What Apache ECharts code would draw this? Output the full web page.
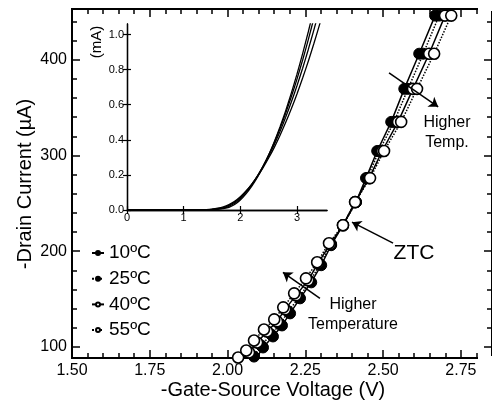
<!DOCTYPE html>
<html><head><meta charset="utf-8">
<script src="https://cdn.jsdelivr.net/npm/echarts@6/dist/echarts.min.js"></script>
<style>html,body{margin:0;padding:0;background:#fff}#c{width:492px;height:402px}</style>
</head><body><div id="c"></div>
<script>
const FONT = '"Liberation Sans", Arial, Helvetica, sans-serif';

// ---- main plot data (Vgs in V, Id in uA) ----
const seriesNames = ['10ºC', '25ºC', '40ºC', '55ºC'];
const v10 = [2.066, 2.092, 2.114, 2.146, 2.175, 2.201, 2.233, 2.269, 2.301, 2.333, 2.371, 2.413, 2.445, 2.481, 2.526, 2.568, 2.616, 2.667];
const i10 = [80.6, 87.9, 99.5, 111.0, 122.5, 135.1, 150.8, 167.5, 185.4, 206.3, 227.2, 251.3, 276.4, 304.7, 335.1, 369.6, 406.3, 446.1];
const v25 = [2.060, 2.085, 2.108, 2.140, 2.169, 2.195, 2.230, 2.265, 2.297, 2.333, 2.371, 2.413, 2.449, 2.487, 2.535, 2.580, 2.629, 2.680];
const i25 = [82.7, 90.0, 101.6, 113.1, 123.6, 137.2, 151.8, 168.6, 186.4, 207.4, 227.2, 251.3, 276.4, 304.7, 335.1, 369.6, 406.3, 446.1];
const v40 = [2.043, 2.069, 2.095, 2.127, 2.159, 2.185, 2.220, 2.259, 2.291, 2.330, 2.371, 2.410, 2.455, 2.497, 2.548, 2.596, 2.648, 2.699];
const i40 = [86.9, 94.2, 104.7, 116.2, 126.7, 139.3, 153.9, 169.6, 187.5, 207.4, 227.2, 251.3, 276.4, 304.7, 335.1, 369.6, 406.3, 446.1];
const v55 = [2.034, 2.060, 2.085, 2.117, 2.150, 2.179, 2.214, 2.252, 2.288, 2.326, 2.371, 2.410, 2.458, 2.503, 2.558, 2.609, 2.664, 2.719];
const i55 = [89.0, 96.3, 106.8, 118.3, 128.8, 141.4, 156.0, 171.7, 188.5, 208.4, 227.2, 251.3, 276.4, 304.7, 335.1, 369.6, 406.3, 446.1];

// ---- inset data (Vgs in V, Id in mA) ----
const insetV  = [0, 1.3, 1.4, 1.5, 1.6, 1.7, 1.8, 1.9, 2.0, 2.1, 2.2, 2.3, 2.4, 2.5, 2.6, 2.7, 2.8, 2.9, 3.0, 3.1, 3.2, 3.3, 3.4, 3.5];
const inset10 = [0, 0, 0.0005, 0.0015, 0.004, 0.008, 0.015, 0.031, 0.057, 0.092, 0.135, 0.186, 0.246, 0.313, 0.389, 0.473, 0.565, 0.666, 0.774, 0.891, 1.016, 1.149, 1.290, 1.44];
const inset25 = [0, 0, 0.001, 0.003, 0.006, 0.011, 0.021, 0.038, 0.065, 0.100, 0.142, 0.192, 0.249, 0.313, 0.385, 0.464, 0.551, 0.645, 0.746, 0.855, 0.971, 1.095, 1.226, 1.36];
const inset40 = [0, 0.0003, 0.0015, 0.004, 0.008, 0.014, 0.026, 0.044, 0.071, 0.105, 0.146, 0.193, 0.247, 0.307, 0.374, 0.448, 0.528, 0.615, 0.708, 0.808, 0.915, 1.028, 1.148, 1.27];
const inset55 = [0, 0.0005, 0.002, 0.005, 0.010, 0.018, 0.031, 0.049, 0.075, 0.108, 0.146, 0.190, 0.240, 0.296, 0.357, 0.425, 0.498, 0.577, 0.661, 0.752, 0.848, 0.950, 1.058, 1.172];

// ---- ticks ----
const xMajor = [1.5, 1.75, 2.0, 2.25, 2.5, 2.75];
const xMinor = [1.55, 1.6, 1.65, 1.7, 1.8, 1.85, 1.9, 1.95, 2.05, 2.1, 2.15, 2.2, 2.3, 2.35, 2.4, 2.45, 2.55, 2.6, 2.65, 2.7, 2.8];
const yMajor = [100, 200, 300, 400];
const yMinor = [120, 140, 160, 180, 220, 240, 260, 280, 320, 340, 360, 380, 420, 440];
const insetXTicks = [0, 1, 2, 3];
const insetYTicks = [0, 0.2, 0.4, 0.6, 0.8, 1.0];

const zip = (a, b) => a.map((v, k) => [v, b[k]]);

const black = '#000';
function axisBase(extra) {
  return Object.assign({
    type: 'value', splitLine: { show: false },
    axisLine: { show: true, lineStyle: { color: black, width: 2 } },
    axisLabel: { show: false }
  }, extra);
}

const xAxes = [
  axisBase({ gridIndex: 0, position: 'bottom', min: 1.5, max: 2.85,
    axisTick: { show: true, inside: true, length: 8, customValues: xMajor, lineStyle: { color: black, width: 1.5 } },
    axisLabel: { show: true, customValues: xMajor, formatter: v => v.toFixed(2), fontSize: 16, color: black, fontFamily: FONT, margin: 5 } }),
  axisBase({ gridIndex: 0, position: 'bottom', min: 1.5, max: 2.85,
    axisTick: { show: true, inside: true, length: 5, customValues: xMinor, lineStyle: { color: black, width: 1.5 } } }),
  axisBase({ gridIndex: 0, position: 'top', min: 1.5, max: 2.85,
    axisTick: { show: true, inside: true, length: 8, customValues: xMajor, lineStyle: { color: black, width: 1.5 } } }),
  axisBase({ gridIndex: 0, position: 'top', min: 1.5, max: 2.85,
    axisTick: { show: true, inside: true, length: 5, customValues: xMinor, lineStyle: { color: black, width: 1.5 } } }),
  // inset
  axisBase({ gridIndex: 1, position: 'bottom', min: 0, max: 3.53,
    axisLine: { show: true, lineStyle: { color: black, width: 1.3 } },
    axisTick: { show: true, inside: true, length: 4, customValues: insetXTicks, lineStyle: { color: black, width: 1.2 } },
    axisLabel: { show: true, customValues: insetXTicks, fontSize: 11, color: black, fontFamily: FONT, margin: 2 } }),
  axisBase({ gridIndex: 1, position: 'top', min: 0, max: 3.53,
    axisLine: { show: true, lineStyle: { color: black, width: 1.3 } },
    axisTick: { show: true, inside: true, length: 4, customValues: insetXTicks, lineStyle: { color: black, width: 1.2 } } })
];

const yAxes = [
  axisBase({ gridIndex: 0, position: 'left', min: 88.5, max: 453,
    axisTick: { show: true, inside: true, length: 8, customValues: yMajor, lineStyle: { color: black, width: 1.5 } },
    axisLabel: { show: true, customValues: yMajor, fontSize: 16, color: black, fontFamily: FONT, margin: 5 } }),
  axisBase({ gridIndex: 0, position: 'left', min: 88.5, max: 453,
    axisTick: { show: true, inside: true, length: 5, customValues: yMinor, lineStyle: { color: black, width: 1.5 } } }),
  axisBase({ gridIndex: 0, position: 'right', min: 88.5, max: 453,
    axisTick: { show: true, inside: true, length: 8, customValues: yMajor, lineStyle: { color: black, width: 1.5 } } }),
  axisBase({ gridIndex: 0, position: 'right', min: 88.5, max: 453,
    axisTick: { show: true, inside: true, length: 5, customValues: yMinor, lineStyle: { color: black, width: 1.5 } } }),
  // inset
  axisBase({ gridIndex: 1, position: 'left', min: 0, max: 1.06,
    axisLine: { show: true, lineStyle: { color: black, width: 1.3 } },
    axisTick: { show: true, inside: true, length: 4, customValues: insetYTicks, lineStyle: { color: black, width: 1.2 } },
    axisLabel: { show: true, customValues: insetYTicks, formatter: v => v.toFixed(1), fontSize: 11, color: black, fontFamily: FONT, margin: 3 } }),
  axisBase({ gridIndex: 1, position: 'right', min: 0, max: 1.06,
    axisLine: { show: true, lineStyle: { color: black, width: 1.3 } },
    axisTick: { show: true, inside: true, length: 4, customValues: insetYTicks, lineStyle: { color: black, width: 1.2 } } })
];

function mainSeries(name, v, i, filled, dotted, extra) {
  return Object.assign({
    name, type: 'line', xAxisIndex: 0, yAxisIndex: 0, data: zip(v, i),
    symbol: 'circle', symbolSize: 11, clip: true,
    lineStyle: { color: black, width: 1.5, type: dotted ? 'dotted' : 'solid' },
    itemStyle: filled ? { color: black, borderColor: black, borderWidth: 1 } : { color: '#fff', borderColor: black, borderWidth: 1.6 },
    emphasis: { disabled: true }, z: 3
  }, extra || {});
}
function insetSeries(data) {
  return { type: 'line', xAxisIndex: 4, yAxisIndex: 4, data: zip(insetV, data), showSymbol: false, symbol: 'none',
    smooth: 0.2, clip: true, lineStyle: { color: black, width: 1.3 }, emphasis: { disabled: true }, silent: true };
}

const arrows = {
  silent: true, symbol: ['none', 'arrow'], symbolSize: 9,
  lineStyle: { color: black, width: 1.5, type: 'solid' }, label: { show: false },
  emphasis: { disabled: true },
  data: [
    [{ coord: [2.519, 386.4] }, { coord: [2.677, 350.8] }],
    [{ coord: [2.532, 208.4] }, { coord: [2.400, 230.4] }],
    [{ coord: [2.297, 150.8] }, { coord: [2.178, 178.0] }]
  ]
};

const option = {
  animation: false,
  backgroundColor: '#fff',
  grid: [
    { left: 72, top: 9, width: 420, height: 349 },
    { left: 127, top: 24, width: 200, height: 186, show: true, backgroundColor: '#fff', borderWidth: 0 }
  ],
  xAxis: xAxes,
  yAxis: yAxes,
  legend: {
    orient: 'vertical', left: 86, top: 238.5, itemWidth: 12, itemHeight: 5, itemGap: 6.7,
    textStyle: { fontSize: 19, color: black, fontFamily: FONT },
    data: seriesNames
  },
  series: [
    mainSeries(seriesNames[0], v10, i10, true, false, { markLine: arrows }),
    mainSeries(seriesNames[1], v25, i25, true, true),
    mainSeries(seriesNames[2], v40, i40, false, false),
    mainSeries(seriesNames[3], v55, i55, false, true),
    insetSeries(inset10), insetSeries(inset25), insetSeries(inset40), insetSeries(inset55)
  ],
  graphic: [
    { type: 'text', x: 25, y: 184, rotation: Math.PI / 2, silent: true,
      style: { text: '-Drain Current (µA)', font: '20px ' + FONT, fill: black, align: 'center', verticalAlign: 'middle' } },
    { type: 'text', x: 273, y: 390, silent: true,
      style: { text: '-Gate-Source Voltage (V)', font: '20px ' + FONT, fill: black, align: 'center', verticalAlign: 'middle' } },
    { type: 'text', x: 97, y: 42, rotation: Math.PI / 2, silent: true,
      style: { text: '(mA)', font: '15px ' + FONT, fill: black, align: 'center', verticalAlign: 'middle' } },
    { type: 'text', x: 447, y: 133, silent: true,
      style: { text: 'Higher\nTemp.', font: '16px ' + FONT, lineHeight: 20, fill: black, align: 'center', verticalAlign: 'middle' } },
    { type: 'text', x: 353, y: 315, silent: true,
      style: { text: 'Higher\nTemperature', font: '16px ' + FONT, lineHeight: 20, fill: black, align: 'center', verticalAlign: 'middle' } },
    { type: 'text', x: 414, y: 253, silent: true,
      style: { text: 'ZTC', font: '21px ' + FONT, fill: black, align: 'center', verticalAlign: 'middle' } },
    // the frame's top and bottom lines stop short of the right edge in the reference
    { type: 'rect', silent: true, z: 100, shape: { x: 478, y: 6, width: 14, height: 5 }, style: { fill: '#fff' } },
    { type: 'rect', silent: true, z: 100, shape: { x: 478, y: 356, width: 14, height: 5 }, style: { fill: '#fff' } }
  ]
};

const chart = echarts.init(document.getElementById('c'), null, { renderer: 'canvas' });
chart.setOption(option);
</script></body></html>
